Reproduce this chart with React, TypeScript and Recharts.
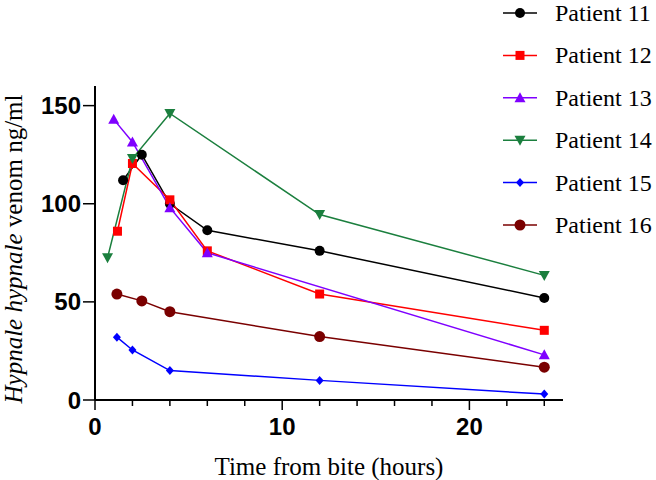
import { LineChart, Line, XAxis, YAxis, Customized } from "recharts";

// hours after bite, venom concentration (ng/ml)
const times11 = [1.5, 2.5, 4, 6, 12, 24];
const venom11 = [112, 125, 100, 86.5, 76, 52];
const times12 = [1.2, 2, 4, 6, 12, 24];
const venom12 = [86, 120.5, 102, 76, 54, 35.5];
const times13 = [1, 2, 4, 6, 24];
const venom13 = [143, 131.5, 98, 75, 23];
const times14 = [0.67, 2, 4, 12, 24];
const venom14 = [72.5, 123, 146, 94.5, 63.5];
const times15 = [1.17, 2, 4, 12, 24];
const venom15 = [32, 25.5, 15, 10, 3];
const times16 = [1.17, 2.5, 4, 12, 24];
const venom16 = [54, 50.5, 45, 32.3, 16.7];

const xTicks = [0, 2, 4, 6, 8, 10, 12, 14, 16, 18, 20, 22, 24];
const xLabels = [0, 10, 20];
const yTicks = [0, 50, 100, 150];

const pts = (t: number[], v: number[]) => t.map((x, i) => ({ x, y: v[i] }));

type Shape = "circle" | "bigCircle" | "square" | "up" | "down" | "diamond";

function Marker({ cx, cy, shape, color }: { cx: number; cy: number; shape: Shape; color: string }) {
  switch (shape) {
    case "circle":
      return <circle cx={cx} cy={cy} r={5} fill={color} />;
    case "bigCircle":
      return <circle cx={cx} cy={cy} r={5.5} fill={color} />;
    case "square":
      return <rect x={cx - 4.5} y={cy - 4.5} width={9} height={9} fill={color} />;
    case "up":
      return <polygon points={`${cx},${cy - 5.5} ${cx + 5.5},${cy + 4.5} ${cx - 5.5},${cy + 4.5}`} fill={color} />;
    case "down":
      return <polygon points={`${cx},${cy + 5.5} ${cx + 5.5},${cy - 4.5} ${cx - 5.5},${cy - 4.5}`} fill={color} />;
    default:
      return <polygon points={`${cx},${cy - 4.5} ${cx + 4},${cy} ${cx},${cy + 4.5} ${cx - 4},${cy}`} fill={color} />;
  }
}

const series = [
  { name: "Patient 11", data: pts(times11, venom11), color: "#000000", shape: "circle" as Shape },
  { name: "Patient 12", data: pts(times12, venom12), color: "#ff0000", shape: "square" as Shape },
  { name: "Patient 13", data: pts(times13, venom13), color: "#7f00ff", shape: "up" as Shape },
  { name: "Patient 14", data: pts(times14, venom14), color: "#1b7f3e", shape: "down" as Shape },
  { name: "Patient 15", data: pts(times15, venom15), color: "#0000ff", shape: "diamond" as Shape },
  { name: "Patient 16", data: pts(times16, venom16), color: "#7a0000", shape: "bigCircle" as Shape },
];

const serif = "'Liberation Serif', 'Times New Roman', serif";
const sans = "'Liberation Sans', Arial, sans-serif";

function XTick({ x, y, payload }: any) {
  const major = xLabels.includes(payload.value);
  return (
    <g>
      <line x1={x} y1={y} x2={x} y2={y + (major ? 10 : 6)} stroke="#000" strokeWidth={1.5} />
      {major && (
        <text x={x} y={y + 18} dy="0.71em" textAnchor="middle" style={{ fontFamily: sans }} fontWeight="bold" fontSize={24} fill="#000">
          {payload.value}
        </text>
      )}
    </g>
  );
}

function SeriesLegend() {
  return (
    <g>
      {series.map((s, i) => {
        const cy = 13 + i * 42.4;
        return (
          <g key={s.name}>
            <line x1={503} y1={cy} x2={537} y2={cy} stroke={s.color} strokeWidth={1.5} />
            <Marker cx={520} cy={cy} shape={s.shape} color={s.color} />
            <text x={555} y={cy + 8} style={{ fontFamily: serif }} fontSize={24} fill="#000">
              {s.name}
            </text>
          </g>
        );
      })}
    </g>
  );
}

export default function App() {
  return (
    <div style={{ position: "absolute", left: 0, top: 0, width: 656, height: 480, background: "#fff" }}>
      <LineChart width={656} height={480} margin={{ top: 86, right: 93, bottom: 0, left: 0 }}>
        <XAxis
          type="number"
          dataKey="x"
          domain={[0, 25]}
          ticks={xTicks}
          interval={0}
          height={80}
          tickSize={0}
          tickMargin={0}
          tickLine={false}
          tick={<XTick />}
          axisLine={{ stroke: "#000", strokeWidth: 2 }}
          label={() => (
            <text x={329} y={475} textAnchor="middle" style={{ fontFamily: serif }} fontSize={25} fill="#000">
              Time from bite (hours)
            </text>
          )}
        />
        <YAxis
          type="number"
          dataKey="y"
          domain={[0, 160]}
          ticks={yTicks}
          interval={0}
          width={95}
          tickSize={12}
          tickLine={{ stroke: "#000", strokeWidth: 1.5 }}
          axisLine={{ stroke: "#000", strokeWidth: 2 }}
          tick={{ fill: "#000", fontFamily: sans, fontWeight: "bold", fontSize: 24 }}
          label={() => (
            <text x={22} y={249} transform="rotate(-90, 22, 249)" textAnchor="middle" style={{ fontFamily: serif }} fontSize={25} fill="#000">
              <tspan fontStyle="italic">Hypnale hypnale</tspan> venom ng/ml
            </text>
          )}
        />
        {series.map((s) => (
          <Line
            key={s.name}
            data={s.data}
            dataKey="y"
            name={s.name}
            type="linear"
            stroke={s.color}
            strokeWidth={1.5}
            isAnimationActive={false}
            dot={(p: any) => <Marker key={`${s.name}-${p.index}`} cx={p.cx} cy={p.cy} shape={s.shape} color={s.color} />}
            activeDot={false}
          />
        ))}
        <Customized component={SeriesLegend} />
      </LineChart>
    </div>
  );
}
